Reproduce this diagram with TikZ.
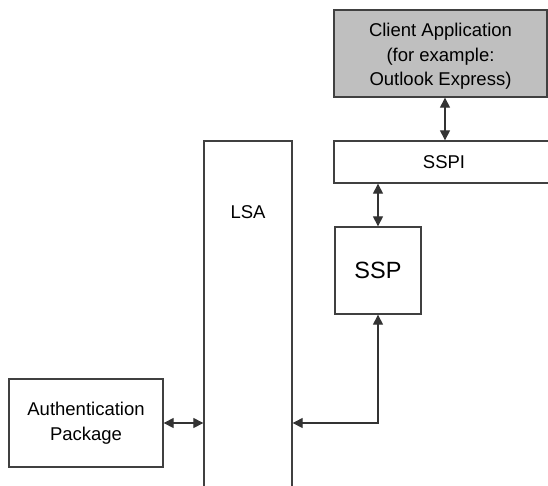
\documentclass[tikz,border=0pt]{standalone}
\usepackage{fontspec}
\setmainfont{Liberation Sans}
\usetikzlibrary{arrows.meta}

\begin{document}
\begin{tikzpicture}[x=1pt,y=-1pt,
  box/.style={draw=black!75,line width=1.3pt,inner sep=0pt,align=center,
    font=\fontsize{18.5}{24.5}\selectfont},
  tag/.style={inner sep=0pt,font=\fontsize{18.5}{24.5}\selectfont},
  link/.style={draw=black!80,line width=1.1pt,
    {Triangle[length=10pt,width=10pt]}-{Triangle[length=10pt,width=10pt]}}]
\useasboundingbox (0,0) rectangle (548,485);
\clip (0,0) rectangle (548,485);

% upper right: application and interface
\node[box,fill=black!25,minimum width=213pt,minimum height=87pt] (client) at (440.5,53.5)
  {\rule{0pt}{19.5pt}Client Application\\(for example:\\Outlook Express)};
\node[box,fill=white,minimum width=220pt,minimum height=42pt] (sspi) at (444,162) {SSPI};
\node[box,minimum width=86pt,minimum height=87pt,font=\fontsize{23.5}{28}\selectfont] (ssp) at (378,270.5) {SSP};

% LSA column, open at the bottom
\node[box,minimum width=88pt,minimum height=354pt] (lsa) at (248,318) {};
\node[tag] (lsatext) at (248,212) {LSA};

\node[box,minimum width=154pt,minimum height=88pt] (auth) at (86,423)
  {Authentication\\Package};

% connectors
\draw[link] ([xshift=4.5pt]client.south) -- ([xshift=4.5pt]client.south |- sspi.north);
\draw[link] (sspi.south -| ssp.north) -- (ssp.north);
\draw[link] (ssp.south) |- (lsa.east |- auth.east);
\draw[link] (auth.east) -- (auth.east -| lsa.west);
\end{tikzpicture}
\end{document}
